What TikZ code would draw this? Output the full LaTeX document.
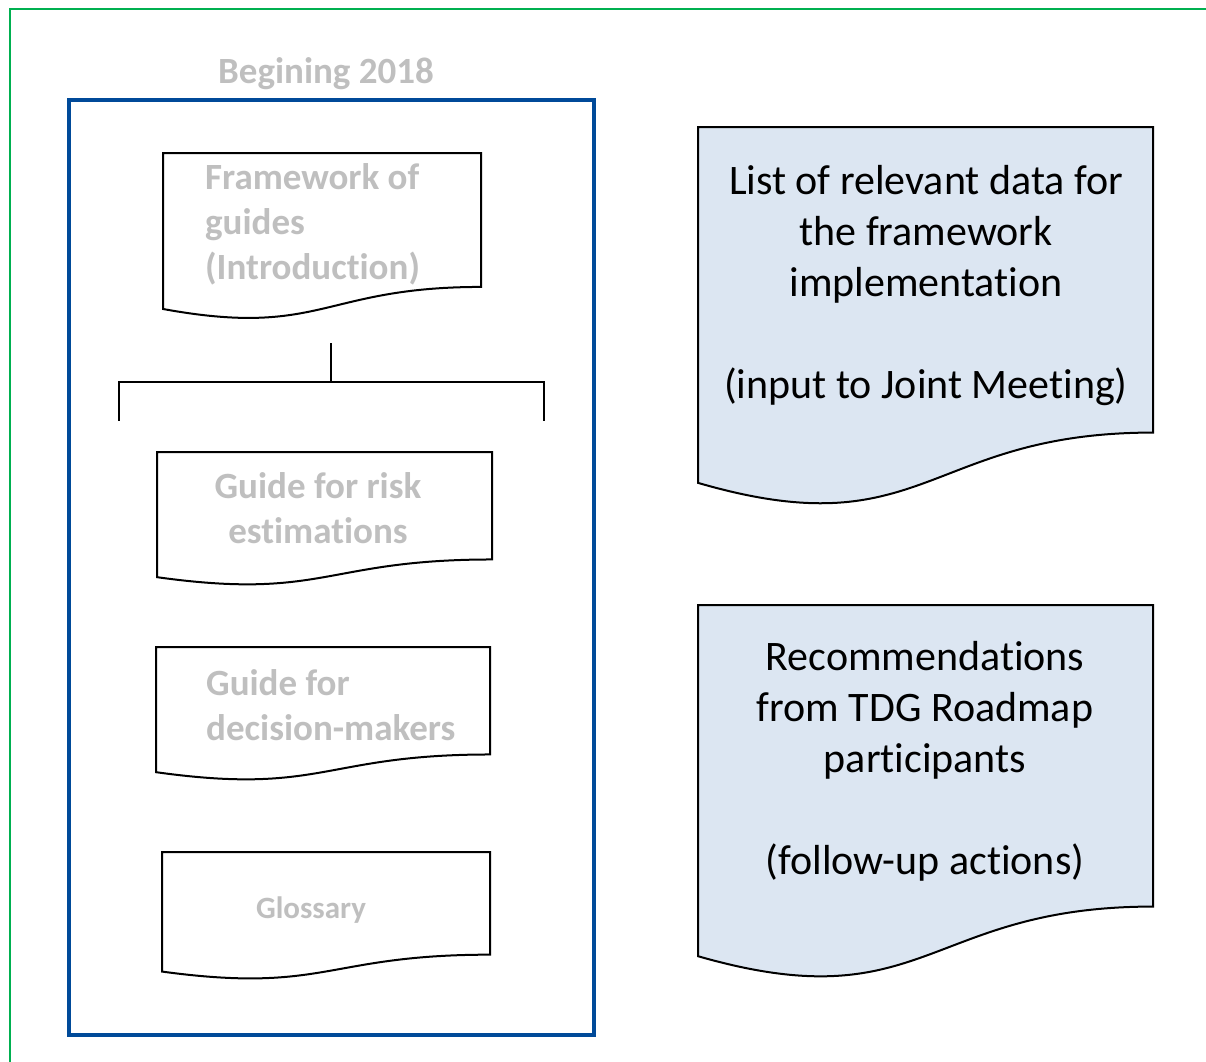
\documentclass[tikz,border=0pt]{standalone}
\usepackage{fontspec}
\setmainfont[Ligatures=NoCommon]{Carlito}
\definecolor{framegreen}{RGB}{0,176,80}
\definecolor{boxblue}{RGB}{0,74,153}
\definecolor{fadegray}{RGB}{191,191,191}
\definecolor{docfill}{RGB}{220,230,242}
\newcommand\docpath[5]{%
  \draw[#5] (#1,#2) -- ({#1+#3},#2) -- ({#1+#3},{#2+0.802*#4})
    .. controls ({#1+#3/2},{#2+0.802*#4}) and ({#1+#3/2},{#2+1.108*#4}) ..
    (#1,{#2+0.934*#4}) -- cycle;}
\begin{document}
\begin{tikzpicture}[x=1pt,y=-1pt,
  docplain/.style={draw=black,line width=2pt,fill=white,line join=miter},
  docblue/.style={draw=black,line width=2pt,fill=docfill,line join=miter},
  graytxt/.style={text=fadegray,font=\bfseries\fontsize{37}{45}\selectfont,inner sep=0pt},
  darktxt/.style={text=black,font=\fontsize{42}{51}\selectfont,inner sep=0pt,align=center},
  bracket/.style={draw=black,line width=2.2pt}]
\useasboundingbox (0,0) rectangle (1206,1061);
% outer green frame (only top and left visible)
\draw[framegreen,line width=2pt] (10,1070) -- (10,9) -- (1215,9);
% blue container
\draw[boxblue,line width=4pt] (69,100) rectangle (594,1035);
\node[graytxt,font=\bfseries\fontsize{37}{44}\selectfont] (begin) at (326,74) {Begining 2018};
% left documents
\docpath{163}{153}{318}{167}{docplain}
\docpath{157}{452}{335}{134}{docplain}
\docpath{156}{647}{334}{134}{docplain}
\docpath{162}{852}{328}{128}{docplain}
\node[graytxt,anchor=west,align=left] (fw) at (205,224) {Framework of\\guides\\(Introduction)};
\node[graytxt,align=center] (risk) at (318,508.5) {Guide for risk\\estimations};
\node[graytxt,anchor=west,align=left] (dec) at (206,705.5) {Guide for\\decision-makers};
\node[graytxt,font=\bfseries\fontsize{31}{38}\selectfont] (glos) at (311,910) {Glossary};
% bracket connector
\coordinate (bTop) at (331,343);
\coordinate (bMid) at (331,382);
\coordinate (bL) at (119,382);
\coordinate (bR) at (544,382);
\coordinate (bLd) at (119,420);
\coordinate (bRd) at (544,420);
\draw[bracket] (bTop) -- (bMid);
\draw[bracket,line cap=rect] (bLd) -- (bL) -- (bR) -- (bRd);
% right documents
\docpath{698}{127}{455}{381}{docblue}
\docpath{698}{605}{455}{376}{docblue}
\node[darktxt] (list) at (926,285.5) {List of relevant data for\\the framework\\implementation\\[51pt](input to Joint Meeting)};
\node[darktxt] (rec) at (925,761.5) {Recommendations\\from TDG Roadmap\\participants\\[51pt](follow-up actions)};
\end{tikzpicture}
\end{document}
